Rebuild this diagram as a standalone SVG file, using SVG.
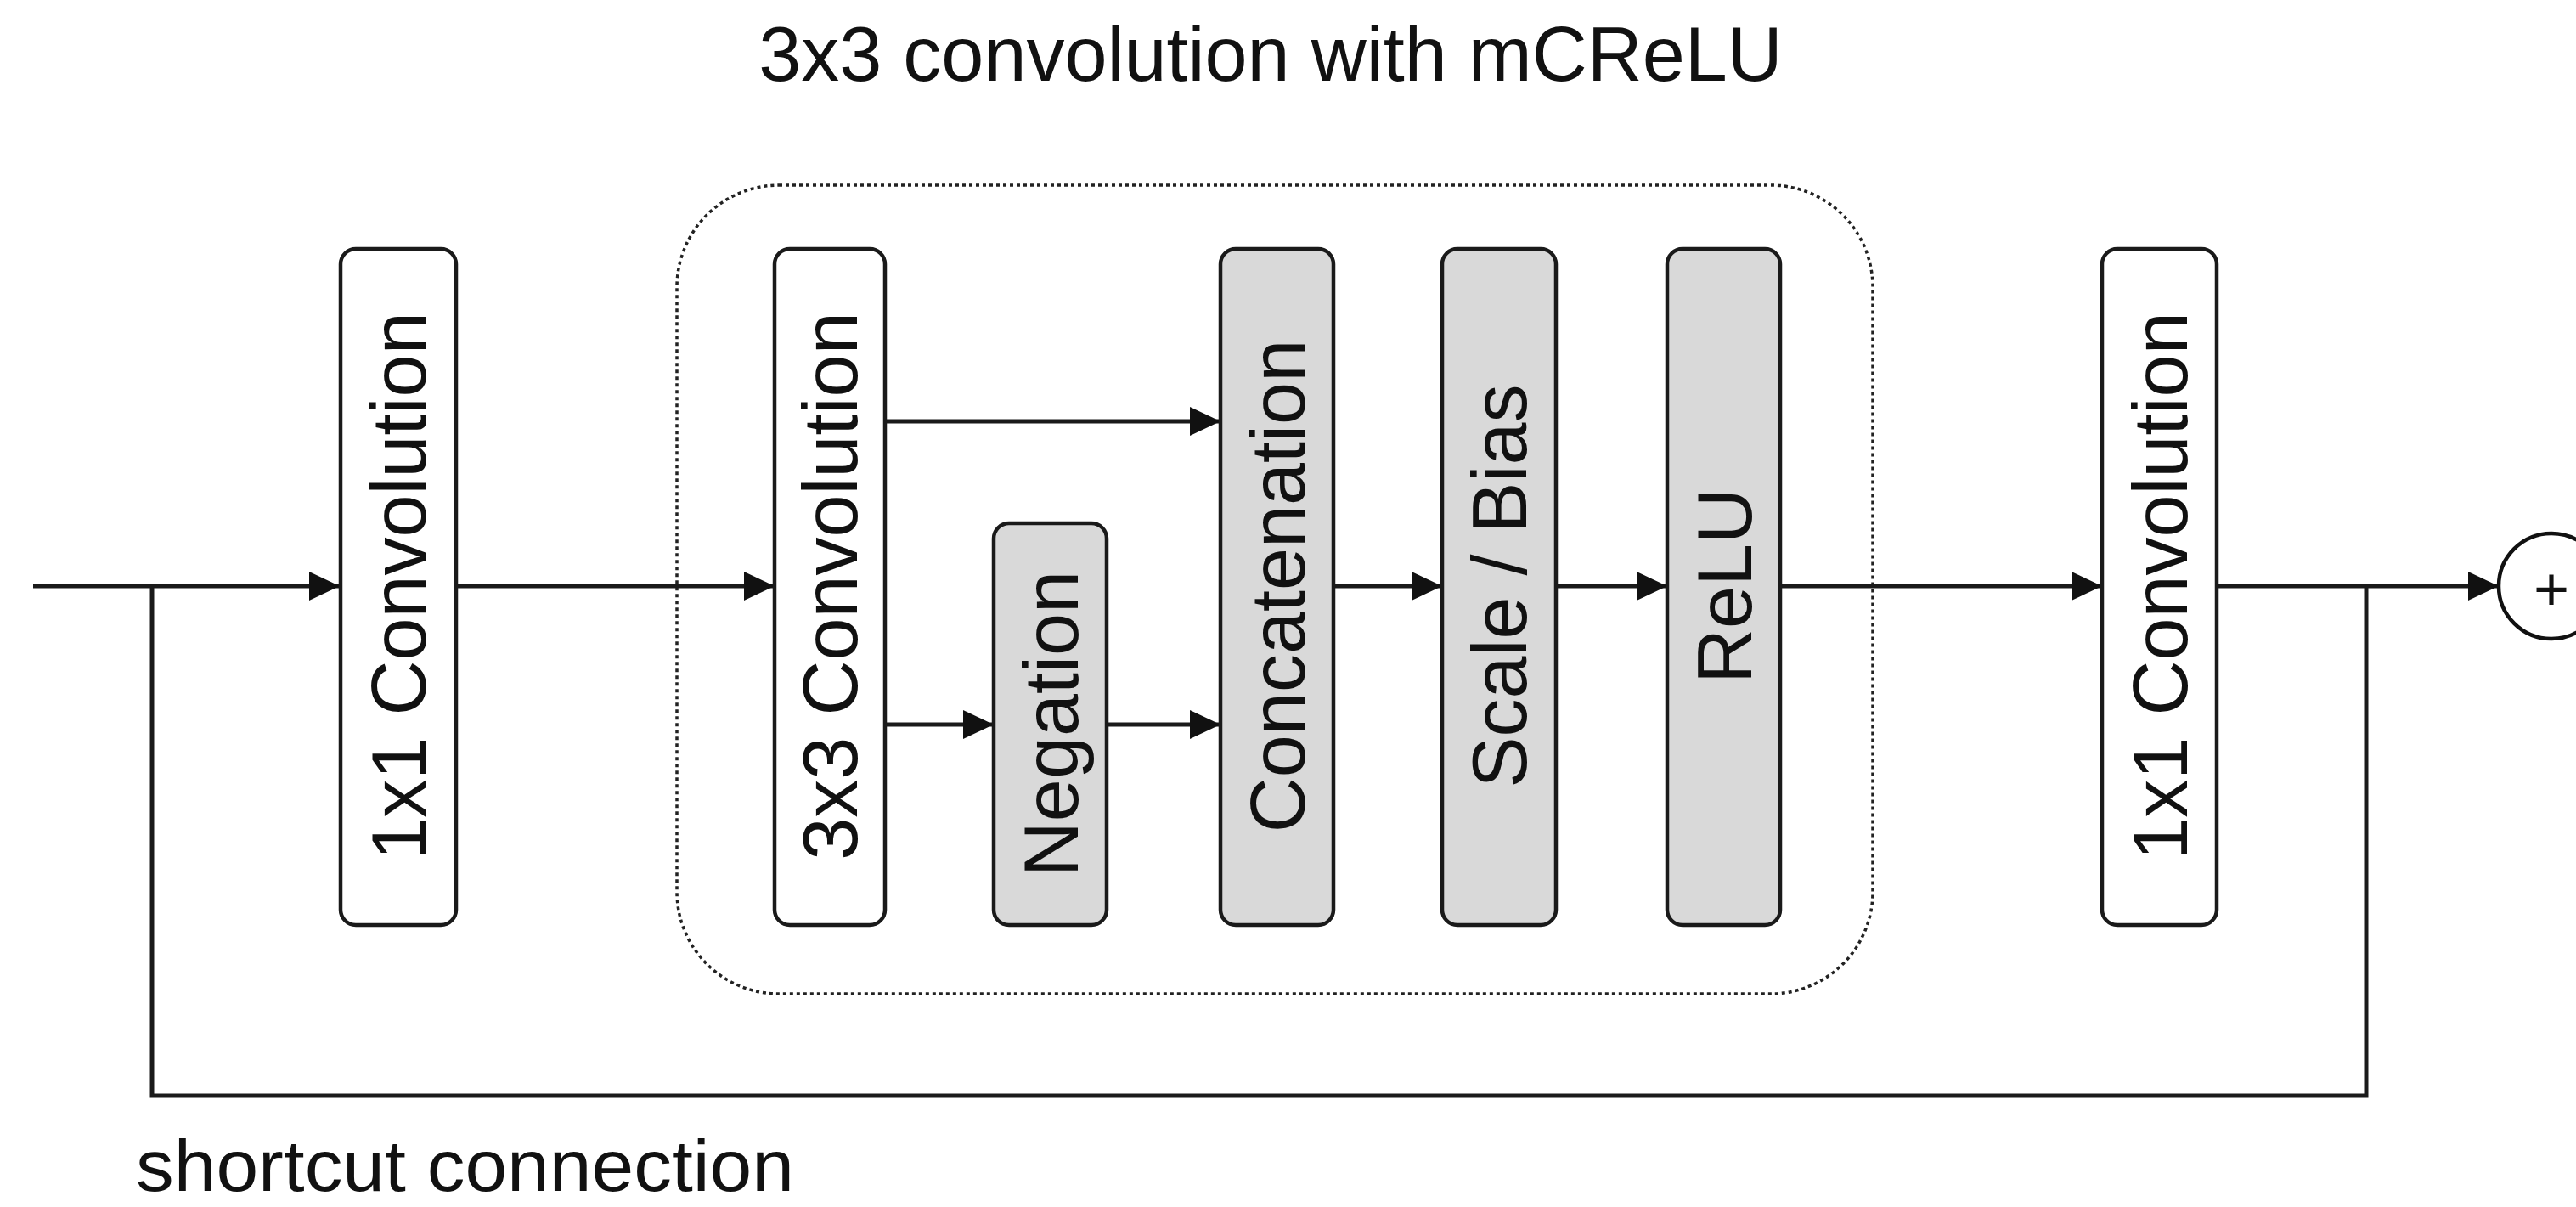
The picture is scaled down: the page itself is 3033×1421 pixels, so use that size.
<svg xmlns="http://www.w3.org/2000/svg" width="3033" height="1421" viewBox="0 0 3033 1421">
<defs>
<style>
.box{stroke:#1a1a1a;stroke-width:4.5}
.white{fill:#ffffff}
.gray{fill:#d9d9d9}
.lbl{font-family:"Liberation Sans",Arial,sans-serif;font-size:90px;fill:#111;text-anchor:middle}
.edge{fill:none;stroke:#1a1a1a;stroke-width:5}
.cap{font-family:"Liberation Sans",Arial,sans-serif;font-size:90px;fill:#111}
</style>
<marker id="arr" markerWidth="36" markerHeight="34" refX="36" refY="17" orient="auto" markerUnits="userSpaceOnUse">
<path d="M0,0 L36,17 L0,34 Z" fill="#111"/>
</marker>
</defs>
<rect width="3033" height="1421" fill="#ffffff"/>

<text class="cap" x="1496" y="95" text-anchor="middle">3x3 convolution with mCReLU</text>

<g id="container">
<rect x="797" y="218" width="1408" height="952" rx="120" ry="120" fill="none" stroke="#222" stroke-width="3.5" stroke-dasharray="4 4"/>
</g>

<g id="connectors">
<line class="edge" x1="39" y1="690" x2="400" y2="690" marker-end="url(#arr)"/>
<line class="edge" x1="537" y1="690" x2="912" y2="690" marker-end="url(#arr)"/>
<line class="edge" x1="1042" y1="496" x2="1437" y2="496" marker-end="url(#arr)"/>
<line class="edge" x1="1042" y1="853" x2="1170" y2="853" marker-end="url(#arr)"/>
<line class="edge" x1="1303" y1="853" x2="1437" y2="853" marker-end="url(#arr)"/>
<line class="edge" x1="1570" y1="690" x2="1698" y2="690" marker-end="url(#arr)"/>
<line class="edge" x1="1832" y1="690" x2="1963" y2="690" marker-end="url(#arr)"/>
<line class="edge" x1="2096" y1="690" x2="2475" y2="690" marker-end="url(#arr)"/>
<line class="edge" x1="2610" y1="690" x2="2942" y2="690" marker-end="url(#arr)"/>
<polyline class="edge" points="179,690 179,1290 2786,1290 2786,690" stroke="#2a2a2a"/>
</g>

<g id="conv1x1_a">
<rect class="box white" x="401" y="293" width="136" height="796" rx="18"/>
<text class="lbl" transform="translate(469,690) rotate(-90)" y="32">1x1 Convolution</text>
</g>

<g id="conv3x3">
<rect class="box white" x="912" y="293" width="130" height="796" rx="18"/>
<text class="lbl" transform="translate(977,690) rotate(-90)" y="32">3x3 Convolution</text>
</g>

<g id="negation">
<rect class="box gray" x="1170" y="616" width="133" height="473" rx="18"/>
<text class="lbl" transform="translate(1236.5,852) rotate(-90)" y="32">Negation</text>
</g>

<g id="concatenation">
<rect class="box gray" x="1437" y="293" width="133" height="796" rx="18"/>
<text class="lbl" transform="translate(1503.5,690) rotate(-90)" y="32">Concatenation</text>
</g>

<g id="scalebias">
<rect class="box gray" x="1698" y="293" width="134" height="796" rx="18"/>
<text class="lbl" transform="translate(1765,690) rotate(-90)" y="32">Scale / Bias</text>
</g>

<g id="relu">
<rect class="box gray" x="1963" y="293" width="133" height="796" rx="18"/>
<text class="lbl" transform="translate(2029.5,690) rotate(-90)" y="32">ReLU</text>
</g>

<g id="conv1x1_b">
<rect class="box white" x="2475" y="293" width="135" height="796" rx="18"/>
<text class="lbl" transform="translate(2542.5,690) rotate(-90)" y="32">1x1 Convolution</text>
</g>

<g id="sum">
<circle cx="3004" cy="690" r="62" fill="#ffffff" stroke="#111" stroke-width="4.5"/>
<text x="3004" y="718" font-family="Liberation Sans, Arial, sans-serif" font-size="72" fill="#111" text-anchor="middle">+</text>
</g>

<text class="cap" x="160" y="1402" font-size="86" style="font-size:86px" textLength="775" lengthAdjust="spacingAndGlyphs">shortcut connection</text>
</svg>
